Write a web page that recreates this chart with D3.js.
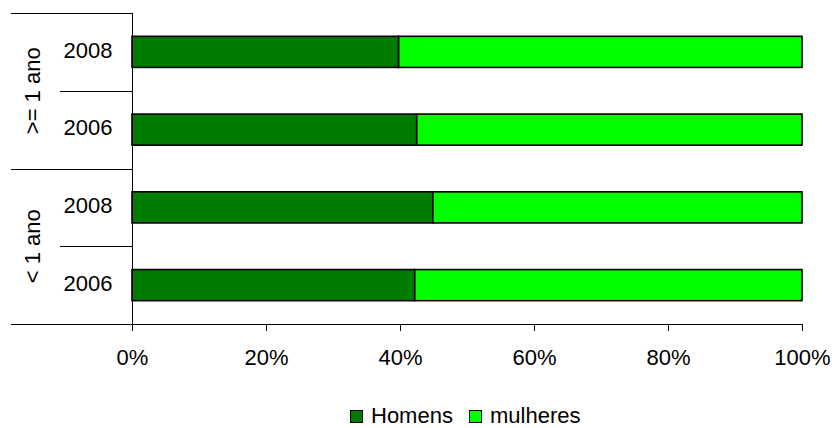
<!DOCTYPE html>
<meta charset="utf-8">
<style>
body { margin: 0; background: white; }
text { font-family: "Liberation Sans", Arial, sans-serif; fill: black; }
</style>
<script src="https://d3js.org/d3.v7.min.js"></script>
<body>
<script>
// rows, top to bottom
const groups = ['>= 1 ano', '< 1 ano'];
const rowGroup = ['>= 1 ano', '>= 1 ano', '< 1 ano', '< 1 ano'];
const rowYear = ['2008', '2006', '2008', '2006'];
const homens = [0.398, 0.425, 0.449, 0.422];
const mulheres = homens.map(h => 1 - h);
const seriesNames = ['Homens', 'mulheres'];
const colors = ['#007D00', '#00FF00'];
const ticks = [0, 0.2, 0.4, 0.6, 0.8, 1];

const W = 832, H = 428;
const x0 = 132, x1 = 802, plotTop = 13, plotBottom = 324;
const fontSize = '22px';

const svg = d3.select('body').append('svg')
  .attr('width', W).attr('height', H);

const rows = rowYear.map((y, i) => ({ key: i, group: rowGroup[i], year: y, h: homens[i], m: mulheres[i] }));

const xScale = d3.scaleLinear().domain([0, 1]).range([x0, x1]);
const yScale = d3.scaleBand()
  .domain(rows.map(d => d.key))
  .range([plotTop, plotBottom])
  .paddingInner(0.6)
  .paddingOuter(0.3);
const rowH = (plotBottom - plotTop) / rows.length;

// bars
const stack = d3.stack().keys(['h', 'm'])(rows);
svg.selectAll('g.series')
  .data(stack)
  .enter().append('g')
    .attr('class', 'series')
    .attr('fill', (d, i) => colors[i])
  .selectAll('rect')
  .data(d => d)
  .enter().append('rect')
    .attr('x', d => xScale(d[0]))
    .attr('width', d => xScale(d[1]) - xScale(d[0]))
    .attr('y', d => yScale(d.data.key))
    .attr('height', yScale.bandwidth())
    .attr('stroke', '#000')
    .attr('stroke-width', 1.6);

// x axis
const xAxis = svg.append('g')
  .attr('transform', `translate(0, ${plotBottom})`)
  .call(d3.axisBottom(xScale).tickValues(ticks).tickFormat(d3.format('.0%')).tickSize(7).tickSizeOuter(0));
xAxis.select('.domain').remove();
xAxis.selectAll('line').attr('stroke', '#000');
xAxis.selectAll('text')
  .attr('y', 25)
  .style('font-size', fontSize)
  .style('font-family', '"Liberation Sans", Arial, sans-serif');

// frame lines of the category axis
const lines = svg.append('g').attr('stroke', '#000').attr('stroke-width', 1);
lines.append('line').attr('x1', 11).attr('x2', x1).attr('y1', plotBottom + 0.5).attr('y2', plotBottom + 0.5);
lines.append('line').attr('x1', x0 + 0.5).attr('x2', x0 + 0.5).attr('y1', plotTop).attr('y2', plotBottom + 7);
lines.append('line').attr('x1', 11).attr('x2', x0).attr('y1', plotTop + 0.5).attr('y2', plotTop + 0.5);

// group boundaries (full) and year separators (short)
rows.forEach((d, i) => {
  if (i === 0) return;
  const yy = Math.round(plotTop + i * rowH) + 0.5;
  const full = rowGroup[i] !== rowGroup[i - 1];
  lines.append('line')
    .attr('x1', full ? 11 : 60).attr('x2', x0)
    .attr('y1', yy).attr('y2', yy);
});

// year labels
svg.selectAll('text.year')
  .data(rows)
  .enter().append('text')
    .attr('class', 'year')
    .attr('x', 88)
    .attr('y', d => yScale(d.key) + yScale.bandwidth() / 2 - 2)
    .attr('dy', '0.35em')
    .attr('text-anchor', 'middle')
    .style('font-size', fontSize)
    .text(d => d.year);

// group labels (rotated)
groups.forEach(g => {
  const idx = rows.filter(d => d.group === g).map(d => d.key);
  const yMid = plotTop + (idx[0] + idx[idx.length - 1] + 1) / 2 * rowH;
  svg.append('text')
    .attr('transform', `translate(32, ${yMid}) rotate(-90)`)
    .attr('dy', '0.35em')
    .attr('text-anchor', 'middle')
    .style('font-size', fontSize)
    .text(g);
});

// legend
const legendX = [350, 469];
const legend = svg.selectAll('g.legend')
  .data(seriesNames)
  .enter().append('g')
    .attr('class', 'legend')
    .attr('transform', (d, i) => `translate(${legendX[i]}, 410)`);
legend.append('rect')
  .attr('x', 0.5).attr('y', 0.5)
  .attr('width', 12).attr('height', 12)
  .attr('fill', (d, i) => colors[i])
  .attr('stroke', '#000').attr('stroke-width', 1);
legend.append('text')
  .attr('x', 21).attr('y', 13)
  .style('font-size', fontSize)
  .text(d => d);
</script>
</body>
